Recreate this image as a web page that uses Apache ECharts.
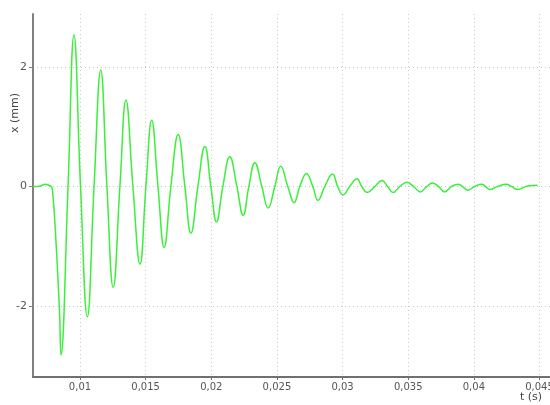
<!DOCTYPE html>
<html>
<head>
<meta charset="utf-8">
<script src="https://cdn.jsdelivr.net/npm/echarts@6/dist/echarts.min.js"></script>
<style>
  html, body { margin: 0; padding: 0; background: #fff; }
  #chart { width: 550px; height: 405px; }
</style>
</head>
<body>
<div id="chart"></div>
<script>
// time (s) and displacement (mm)
var timeS = [0.00642, 0.0070, 0.00734, 0.00775, 0.00790, 0.00819, 0.00844, 0.00855,
  0.00909, 0.00954, 0.01004, 0.01056, 0.01107, 0.01158, 0.01205, 0.01253, 0.01304, 0.01350,
  0.01403, 0.01457, 0.01502, 0.01546, 0.01594, 0.01641, 0.01692, 0.01748, 0.01799, 0.01845,
  0.01898, 0.01951, 0.01997, 0.02040, 0.02088, 0.02141, 0.02195, 0.02243, 0.02286, 0.02332,
  0.02385, 0.02433, 0.02484, 0.02529, 0.02583, 0.02631, 0.02674, 0.02725, 0.02773, 0.02813,
  0.02864, 0.02923, 0.02963, 0.03003, 0.03054, 0.03110, 0.03146, 0.03189, 0.03245, 0.03300,
  0.03343, 0.03384, 0.03435, 0.03490, 0.03541, 0.03592, 0.03640, 0.03684, 0.03732, 0.03777,
  0.03830, 0.03878, 0.03914, 0.03954, 0.04005, 0.04061, 0.04089, 0.04120, 0.04180, 0.04247,
  0.04287, 0.04333, 0.04409, 0.04485];
var dispMm = [0, 0.01, 0.04, 0.01, -0.05, -1.0, -2.1, -2.82,
  0, 2.54, 0, -2.18, 0, 1.95, 0, -1.69, 0, 1.45,
  0, -1.30, 0, 1.11, 0, -1.02, 0, 0.87, 0, -0.78,
  0, 0.67, 0, -0.59, 0, 0.50, 0, -0.48, 0, 0.40,
  0, -0.36, 0, 0.34, 0, -0.27, 0, 0.22, 0, -0.23,
  0, 0.21, 0, -0.14, 0, 0.13, 0, -0.10, 0, 0.10,
  0, -0.10, 0, 0.07, 0, -0.09, 0, 0.06, 0, -0.09,
  0, 0.04, 0, -0.06, 0, 0.04, 0, -0.05, 0, 0.04,
  0, -0.05, 0.01, 0.02];
var xTicks = [0.01, 0.015, 0.02, 0.025, 0.03, 0.035, 0.04, 0.045];
var yTicks = [-2, 0, 2];

var pts = timeS.map(function (t, i) { return [t, dispMm[i]]; });

function comma(v) {
  return String(+(+v).toFixed(4)).replace('.', ',');
}

var chart = echarts.init(document.getElementById('chart'));
var gridLine = { show: true, lineStyle: { color: '#c8c8c8', type: [1, 3], width: 1 } };
chart.setOption({
  animation: false,
  grid: { left: 33, top: 14, right: 0, bottom: 28, outerBoundsMode: 'none' },
  xAxis: {
    type: 'value', min: 0.00642, max: 0.0458,
    axisLine: { show: true, onZero: false, lineStyle: { color: '#707070', width: 2 } },
    axisTick: { show: true, length: 3, customValues: xTicks, lineStyle: { color: '#707070' } },
    axisLabel: { customValues: xTicks, formatter: comma, color: '#555', fontSize: 10,
      fontFamily: 'DejaVu Sans', margin: 5, hideOverlap: false },
    splitLine: gridLine
  },
  yAxis: {
    type: 'value', min: -3.19, max: 2.89,
    axisLine: { show: true, onZero: false, lineStyle: { color: '#808080', width: 2 } },
    axisTick: { show: true, length: 4, customValues: yTicks, lineStyle: { color: '#808080' } },
    axisLabel: { customValues: yTicks, color: '#555', fontSize: 11,
      fontFamily: 'DejaVu Sans', margin: 6 },
    splitLine: gridLine
  },
  graphic: [
    { type: 'text', left: 10, top: 93, rotation: Math.PI / 2,
      style: { text: 'x (mm)', fill: '#444', font: '11px "DejaVu Sans"' } },
    { type: 'text', left: 520, top: 392,
      style: { text: 't (s)', fill: '#444', font: '11px "DejaVu Sans"' } }
  ],
  series: [{
    type: 'line', data: pts, showSymbol: false, smooth: 0.45,
    lineStyle: { color: '#3af03a', width: 1.5 }
  }]
});
</script>
</body>
</html>
